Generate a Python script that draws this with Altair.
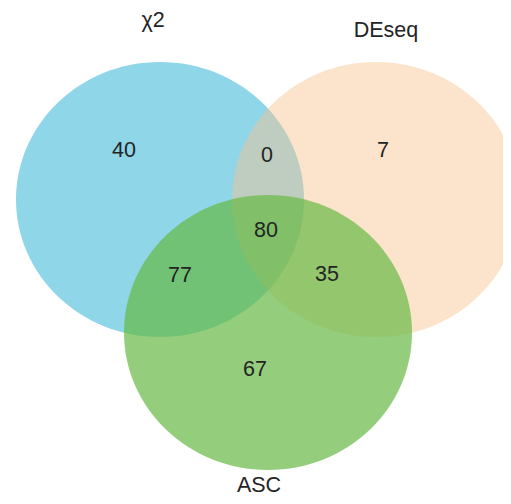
import altair as alt
import pandas as pd

# ---- data ----
set_names = ["χ2", "DEseq", "ASC"]
region_names = ["χ2 only", "χ2 ∩ DEseq", "DEseq only", "χ2 ∩ ASC",
                "χ2 ∩ DEseq ∩ ASC", "DEseq ∩ ASC", "ASC only"]
region_counts = [40, 0, 7, 77, 80, 35, 67]

# ---- layout (screen-space coordinates used through linear scales) ----
set_cx = [160, 376, 268]
set_cy = [199.5, 199.5, 332.5]
set_label_x = [153, 386, 259]
set_label_y = [27, 37, 492]
region_x = [124, 267, 383, 180, 266, 327, 255]
region_y = [157, 162, 157, 281.5, 236.5, 280.5, 375.5]

# ---- styles ----
set_fill = ["#68C8E0", "#F8C38E", "#66B944"]
set_opacity = [0.75, 0.45, 0.7]
ELLIPSE = "M-1,0A1,0.955,0,1,0,1,0A1,0.955,0,1,0,-1,0Z"
DIAM = 288
FONT = "Liberation Sans"

W, H = 495, 488
xs = alt.Scale(domain=[8, 8 + W])
ys = alt.Scale(domain=[8, 8 + H], reverse=True)

sets_df = pd.DataFrame({"set": set_names, "cx": set_cx, "cy": set_cy,
                        "lx": set_label_x, "ly": set_label_y})
regions_df = pd.DataFrame({"region": region_names, "count": region_counts,
                           "x": region_x, "y": region_y})

layers = []
for i, name in enumerate(set_names):
    layers.append(
        alt.Chart(sets_df)
        .transform_filter(alt.datum.set == name)
        .mark_point(shape=ELLIPSE, filled=True, color=set_fill[i],
                    opacity=set_opacity[i], strokeWidth=0)
        .encode(
            x=alt.X("cx:Q", scale=xs, axis=None),
            y=alt.Y("cy:Q", scale=ys, axis=None),
            size=alt.value(DIAM * DIAM),
        )
    )

set_text = alt.Chart(sets_df).mark_text(
    font=FONT, fontSize=21.5, color="#242424", align="center", baseline="alphabetic"
).encode(
    x=alt.X("lx:Q", scale=xs, axis=None),
    y=alt.Y("ly:Q", scale=ys, axis=None),
    text="set:N",
)

region_text = alt.Chart(regions_df).mark_text(
    font=FONT, fontSize=21.5, color="#242424", align="center", baseline="alphabetic"
).encode(
    x=alt.X("x:Q", scale=xs, axis=None),
    y=alt.Y("y:Q", scale=ys, axis=None),
    text="count:Q",
)

chart = alt.layer(*layers, set_text, region_text).properties(
    width=W, height=H, padding=0, autosize="none"
).configure_view(stroke=None)

chart.save("out.html", embed_options={"renderer": "svg", "actions": False})
